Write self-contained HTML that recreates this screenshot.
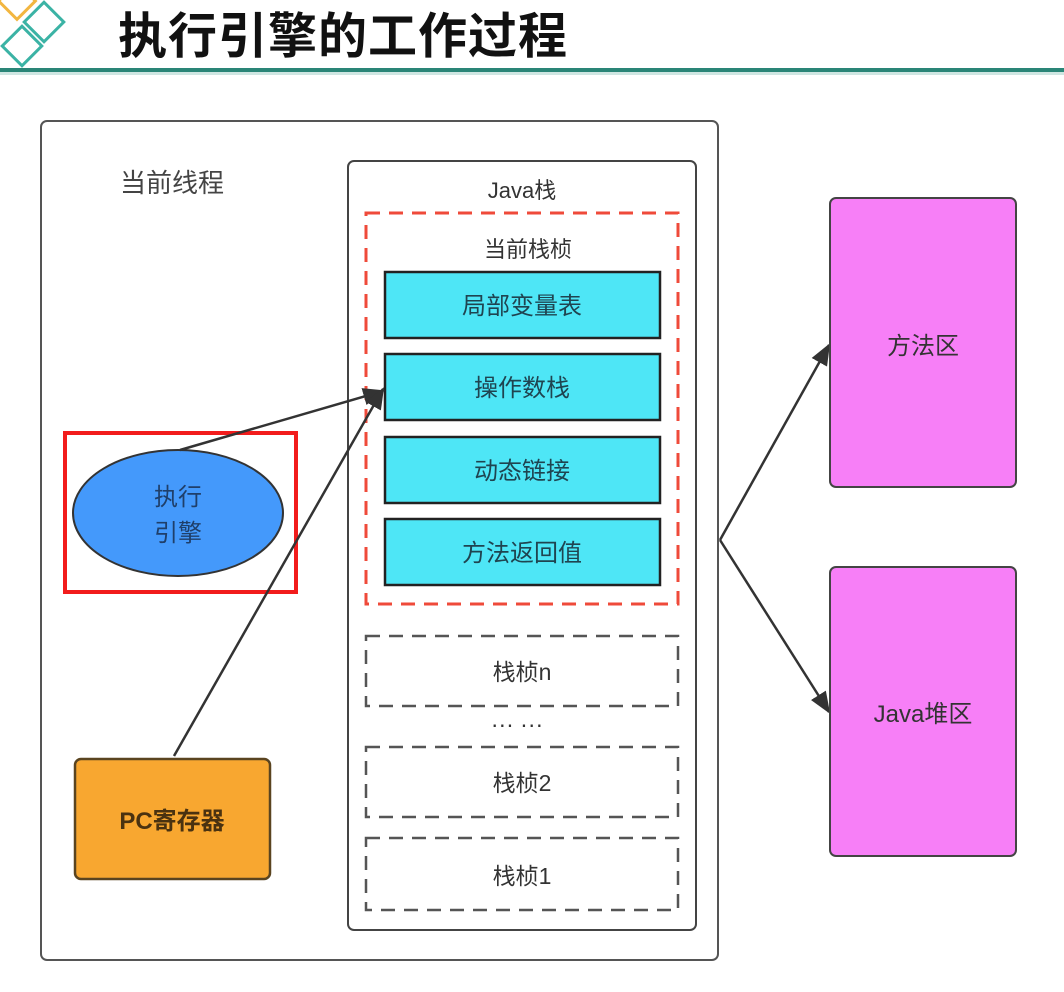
<!DOCTYPE html>
<html><head><meta charset="utf-8"><style>
html,body{margin:0;padding:0;background:#fff;width:1064px;height:992px;overflow:hidden}
text{font-family:"Liberation Sans","Noto Sans CJK SC",sans-serif}
</style></head><body>
<svg width="1064" height="992" viewBox="0 0 1064 992" xmlns="http://www.w3.org/2000/svg">
<defs>
<marker id="ar2" viewBox="0 0 10 10" refX="9" refY="5" markerWidth="22" markerHeight="22" orient="auto" markerUnits="userSpaceOnUse"><path d="M0,1 L10,5 L0,9 z" fill="#333"/></marker></defs>
<!-- header -->
<rect x="4" y="-12" width="26" height="26" transform="rotate(45 17 1)" fill="none" stroke="#f2b640" stroke-width="3"/>
<rect x="30" y="8" width="28" height="28" transform="rotate(45 44 22)" fill="none" stroke="#3bb3a5" stroke-width="3"/>
<rect x="8" y="32" width="28" height="28" transform="rotate(45 22 46)" fill="none" stroke="#3bb3a5" stroke-width="3"/>
<text x="118" y="53" font-size="49" font-weight="bold" fill="#111" letter-spacing="1">执行引擎的工作过程</text>
<rect x="0" y="68" width="1064" height="4" fill="#2a8577"/>
<rect x="0" y="72" width="1064" height="3" fill="#cfe6e2"/>
<!-- outer -->
<rect x="41" y="121" width="677" height="839" rx="6" fill="#fff" stroke="#555" stroke-width="2"/>
<text x="120" y="192" font-size="26" fill="#444">当前线程</text>
<rect x="348" y="161" width="348" height="769" rx="6" fill="#fff" stroke="#444" stroke-width="2"/>
<text x="522" y="198" font-size="22" fill="#333" text-anchor="middle">Java栈</text>
<rect x="366" y="213" width="312" height="391" fill="none" stroke="#ef4a3a" stroke-width="3" stroke-dasharray="14 9"/>
<text x="528" y="257" font-size="22" fill="#333" text-anchor="middle">当前栈桢</text>
<g fill="#4ee6f6" stroke="#222" stroke-width="2.5">
<rect x="385" y="272" width="275" height="66"/>
<rect x="385" y="354" width="275" height="66"/>
<rect x="385" y="437" width="275" height="66"/>
<rect x="385" y="519" width="275" height="66"/>
</g>
<g font-size="24" fill="#1f4450" text-anchor="middle">
<text x="522" y="314">局部变量表</text>
<text x="522" y="396">操作数栈</text>
<text x="522" y="479">动态链接</text>
<text x="522" y="561">方法返回值</text>
</g>
<g fill="none" stroke="#555" stroke-width="2.5" stroke-dasharray="14 9">
<rect x="366" y="636" width="312" height="70"/>
<rect x="366" y="747" width="312" height="70"/>
<rect x="366" y="838" width="312" height="72"/>
</g>
<g font-size="23" fill="#333" text-anchor="middle">
<text x="522" y="680">栈桢n</text>
<text x="517" y="732">··· ···</text>
<text x="522" y="791">栈桢2</text>
<text x="522" y="884">栈桢1</text>
</g>
<!-- engine -->
<rect x="65" y="433" width="231" height="159" fill="none" stroke="#f21c1c" stroke-width="4"/>
<ellipse cx="178" cy="513" rx="105" ry="63" fill="#4499fb" stroke="#333" stroke-width="2"/>
<text x="178" y="505" font-size="24" fill="#1f3f6a" text-anchor="middle">执行</text>
<text x="178" y="541" font-size="24" fill="#1f3f6a" text-anchor="middle">引擎</text>
<rect x="75" y="759" width="195" height="120" rx="6" fill="#f8a730" stroke="#5a4420" stroke-width="2.5"/>
<text x="172" y="829" font-size="24" font-weight="bold" fill="#4a3210" text-anchor="middle">PC寄存器</text>
<!-- arrows -->
<g stroke="#333" stroke-width="2.5" fill="none">
<line x1="180" y1="450" x2="383" y2="391" marker-end="url(#ar2)"/>
<line x1="174" y1="756" x2="383" y2="389" marker-end="url(#ar2)"/>
<line x1="720" y1="540" x2="829" y2="345" marker-end="url(#ar2)"/>
<line x1="720" y1="540" x2="829" y2="712" marker-end="url(#ar2)"/>
</g>
<!-- right -->
<rect x="830" y="198" width="186" height="289" rx="6" fill="#f77ff7" stroke="#444" stroke-width="2"/>
<rect x="830" y="567" width="186" height="289" rx="6" fill="#f77ff7" stroke="#444" stroke-width="2"/>
<text x="923" y="354" font-size="24" fill="#333" text-anchor="middle">方法区</text>
<text x="923" y="722" font-size="24" fill="#333" text-anchor="middle">Java堆区</text>
</svg>
</body></html>
